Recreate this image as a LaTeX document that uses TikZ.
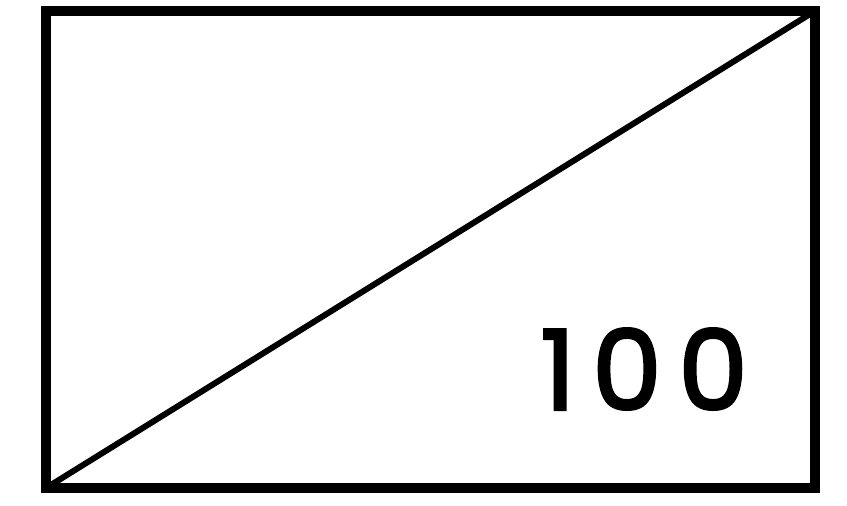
\documentclass[tikz,border=0pt]{standalone}
\usepackage{fontspec}
\usepackage{xcolor}
\usetikzlibrary{positioning,calc}
\newfontfamily\numfont[FakeBold=2.5,LetterSpace=15]{Poppins}

\begin{document}
\begin{tikzpicture}[x=0.02cm,y=0.02cm]
    \useasboundingbox (0,0) rectangle (847,505);
    \node[draw=black, line width=5.6pt,
          outer sep=0pt, inner sep=0pt,
          minimum width=15.38cm, minimum height=9.54cm,
          anchor=south west] (box) at (46,17) {};
    \draw[line width=3.4pt, line cap=round] (box.south west) -- (box.north east);
    \node[inner sep=0pt] (value) at (644,136) {%
      \numfont\fontsize{63}{63}\selectfont
      100};
  \end{tikzpicture}
\end{document}
